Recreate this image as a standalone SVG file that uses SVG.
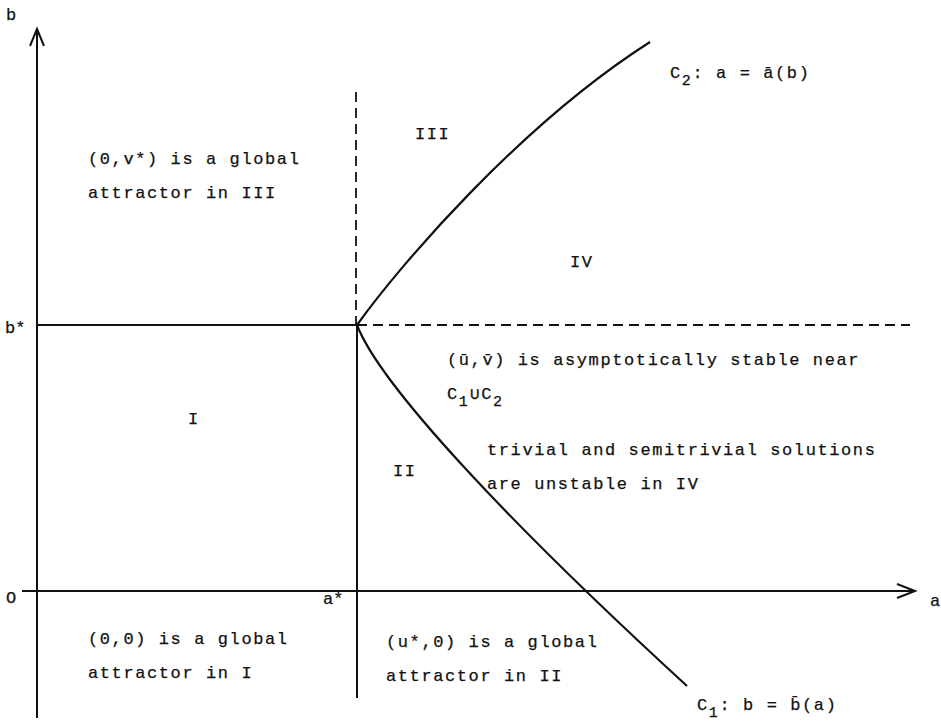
<svg xmlns="http://www.w3.org/2000/svg" width="941" height="721" viewBox="0 0 941 721">
<defs>
<style>
text{font-family:"Liberation Mono","DejaVu Sans Mono",monospace;font-size:17px;letter-spacing:1.6px;fill:#111;stroke:#111;stroke-width:0.25}
.ax{stroke:#111;stroke-width:2;fill:none}
.dash{stroke:#111;stroke-width:1.8;fill:none;stroke-dasharray:10 6}
.cv{stroke:#111;stroke-width:2.2;fill:none}
.sub{font-size:15px}
.lbl{letter-spacing:0}
</style>
</defs>
<rect width="941" height="721" fill="#fff"/>
<g id="connectors">
<path class="ax" d="M37,718 V30 M30,46 L37,29 L44,46"/>
<path class="ax" d="M22,591 H914 M897,584 L915,591 L897,598"/>
<path class="ax" d="M37,325 H357"/>
<path class="dash" d="M357,325 H910"/>
<path class="dash" d="M356,92 V325"/>
<path class="ax" d="M357,325 V698"/>
<path class="cv" d="M357,325 C400,265 520,125 650,42"/>
<path class="cv" d="M357,325 C380,385 508,522 687,686"/>
</g>
<g id="axis-labels">
<text class="lbl" x="6" y="20">b</text>
<text class="lbl" x="5" y="333">b*</text>
<text class="lbl" x="6" y="603">O</text>
<text class="lbl" x="323" y="604">a*</text>
<text class="lbl" x="930" y="606">a</text>
</g>
<g id="region-I"><text x="188" y="424">I</text></g>
<g id="region-II"><text x="393" y="476">II</text></g>
<g id="region-III"><text x="415" y="139">III</text></g>
<g id="region-IV"><text x="570" y="267">IV</text></g>
<g id="C2-label"><text x="670" y="78">C<tspan class="sub" dy="7">2</tspan><tspan dy="-7">: a = ā(b)</tspan></text></g>
<g id="C1-label"><text x="697" y="710">C<tspan class="sub" dy="7">1</tspan><tspan dy="-7">: b = b̄(a)</tspan></text></g>
<g id="note-III">
<text x="88" y="164">(0,v*) is a global</text>
<text x="88" y="198">attractor in III</text>
</g>
<g id="note-I">
<text x="88" y="644">(0,0) is a global</text>
<text x="88" y="678">attractor in I</text>
</g>
<g id="note-II">
<text x="386" y="647">(u*,0) is a global</text>
<text x="386" y="681">attractor in II</text>
</g>
<g id="note-IV">
<text x="447" y="365">(ū,v̄) is asymptotically stable near</text>
<text x="447" y="399">C<tspan class="sub" dy="7">1</tspan><tspan dy="-7">∪C</tspan><tspan class="sub" dy="7">2</tspan></text>
<text x="487" y="455">trivial and semitrivial solutions</text>
<text x="487" y="489">are unstable in IV</text>
</g>
</svg>
